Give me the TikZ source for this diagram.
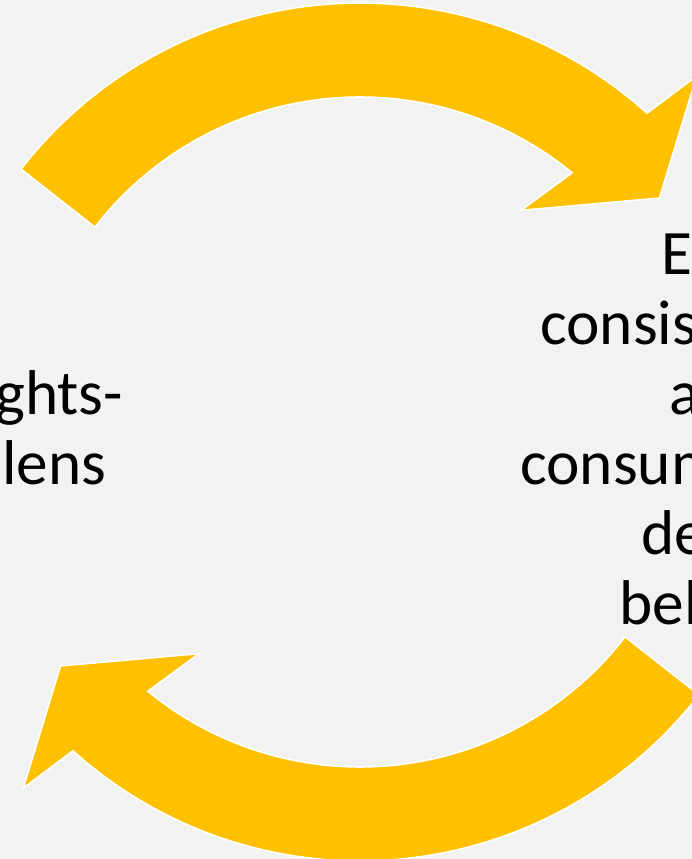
\documentclass[tikz,border=0pt]{standalone}
\usepackage{fontspec}
\setmainfont{Carlito}
\definecolor{cycleGold}{RGB}{255, 192, 0}
\definecolor{slideGray}{RGB}{242, 242, 242}
\usepackage{tikz}

\begin{document}
\begin{tikzpicture}[
    x=0.02cm, y=0.02cm,
    bendarrow/.style={fill=cycleGold, draw=white, line width=0.9pt, line join=miter},
    cycletext/.style={anchor=base west, inner sep=0pt, text=black,
                      font=\fontsize{36}{40}\selectfont},
  ]
    % slide background, also fixes the page size
    \fill[slideGray] (0,0) rectangle (692,859);
    \useasboundingbox (0,0) rectangle (692,859);
    \clip (0,0) rectangle (692,859);

    % two curved arrows, the lower one is the upper one turned half round
    \foreach \turn in {0,180} {
      \begin{scope}[shift={(360,427)}, rotate=\turn]
        \filldraw[bendarrow] (142.2:429) arc[start angle=142.2, end angle=48, radius=429]
            -- (46.6:490) -- (38:380) -- (54:274) -- (50.7:335)
            arc[start angle=50.7, end angle=142.3, radius=335] -- cycle;
      \end{scope}
    }

    % left label
    \node[cycletext] (l1) at (-5,444) {ghts-};
    \node[cycletext] (l2) at (2,374) {lens};

    % right label
    \node[cycletext] (r1) at (661,584) {E};
    \node[cycletext] (r2) at (540,514) {consist};
    \node[cycletext] (r3) at (669,444) {a};
    \node[cycletext] (r4) at (520,374) {consum};
    \node[cycletext] (r5) at (641,304) {de};
    \node[cycletext] (r6) at (619,234) {bel};
\end{tikzpicture}
\end{document}
